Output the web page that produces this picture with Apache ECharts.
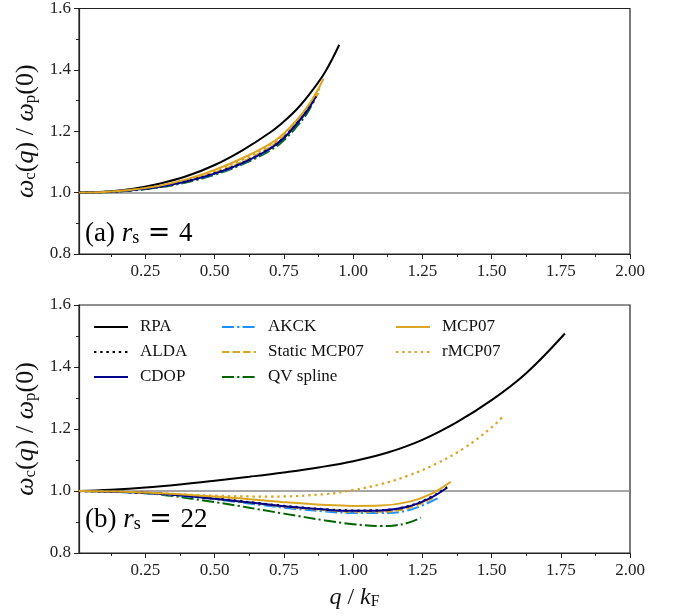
<!DOCTYPE html>
<html>
<head>
<meta charset="utf-8">
<script src="https://cdn.jsdelivr.net/npm/echarts@6/dist/echarts.min.js"></script>
<style>
  html, body { margin: 0; padding: 0; background: #fff; }
  #chart { width: 678px; height: 616px; }
</style>
</head>
<body>
<div id="chart"></div>
<script>
// Plasmon dispersion omega_c(q)/omega_p(0) for two densities.

// Axis ticks
const xTicks = [0.25, 0.5, 0.75, 1.0, 1.25, 1.5, 1.75, 2.0];
const xMinorTicks = [0.125, 0.375, 0.625, 0.875, 1.125, 1.375, 1.625, 1.875];

// Panel (a): r_s = 4, points are [q/kF, omega_c/omega_p]
const rpaA = [[0.01,1.000],[0.1,1.003],[0.2,1.012],[0.3,1.029],[0.4,1.054],[0.5,1.090],[0.6,1.138],[0.7,1.196],[0.75,1.232],[0.8,1.275],[0.85,1.330],[0.9,1.395],[0.95,1.482]];
const aldaA = [[0.01,1.000],[0.1,1.002],[0.2,1.008],[0.3,1.019],[0.4,1.037],[0.5,1.063],[0.6,1.097],[0.7,1.144],[0.75,1.179],[0.8,1.229],[0.835,1.269],[0.866,1.314]];
const cdopA = [[0.01,1.000],[0.1,1.002],[0.2,1.008],[0.3,1.019],[0.4,1.037],[0.5,1.062],[0.6,1.096],[0.7,1.143],[0.75,1.178],[0.8,1.228],[0.835,1.268],[0.865,1.312]];
const akckA = [[0.01,1.000],[0.1,1.002],[0.2,1.008],[0.3,1.019],[0.4,1.036],[0.5,1.061],[0.6,1.095],[0.7,1.142],[0.75,1.177],[0.8,1.227],[0.835,1.267],[0.868,1.316]];
const staticA = [[0.01,1.000],[0.1,1.002],[0.2,1.009],[0.3,1.021],[0.4,1.040],[0.5,1.066],[0.6,1.101],[0.7,1.149],[0.75,1.184],[0.8,1.234],[0.84,1.280],[0.875,1.325]];
const qvA = [[0.01,1.000],[0.1,1.001],[0.2,1.007],[0.3,1.017],[0.4,1.034],[0.5,1.058],[0.6,1.092],[0.7,1.137],[0.75,1.171],[0.8,1.219],[0.83,1.253],[0.86,1.300]];
const mcpA = [[0.01,1.000],[0.1,1.002],[0.2,1.009],[0.3,1.022],[0.4,1.044],[0.5,1.074],[0.6,1.112],[0.7,1.159],[0.75,1.193],[0.8,1.240],[0.85,1.300],[0.893,1.371]];
const rmcpA = [[0.01,1.000],[0.1,1.002],[0.2,1.009],[0.3,1.022],[0.4,1.042],[0.5,1.070],[0.6,1.107],[0.7,1.155],[0.75,1.189],[0.8,1.237],[0.85,1.297],[0.885,1.350]];

// Panel (b): r_s = 22
const rpaB = [[0.01,1.000],[0.125,1.004],[0.25,1.011],[0.375,1.021],[0.5,1.033],[0.625,1.046],[0.75,1.060],[0.875,1.076],[1.0,1.096],[1.125,1.124],[1.25,1.165],[1.375,1.222],[1.5,1.293],[1.625,1.380],[1.765,1.508]];
const aldaB = [[0.01,1.000],[0.25,0.994],[0.5,0.976],[0.75,0.952],[0.9,0.941],[1.0,0.937],[1.1,0.938],[1.2,0.951],[1.28,0.980],[1.34,1.012]];
const cdopB = [[0.01,1.000],[0.25,0.994],[0.5,0.975],[0.75,0.951],[0.9,0.940],[1.0,0.936],[1.1,0.937],[1.2,0.950],[1.28,0.978],[1.335,1.008]];
const akckB = [[0.01,1.000],[0.25,0.993],[0.5,0.973],[0.75,0.946],[0.9,0.934],[1.0,0.929],[1.1,0.929],[1.2,0.938],[1.305,0.976]];
const staticB = [[0.01,1.000],[0.25,0.994],[0.5,0.975],[0.75,0.950],[0.9,0.938],[1.0,0.933],[1.1,0.933],[1.2,0.945],[1.3,0.982]];
const qvB = [[0.01,1.000],[0.25,0.993],[0.5,0.964],[0.75,0.927],[0.9,0.905],[1.0,0.893],[1.1,0.887],[1.15,0.889],[1.2,0.898],[1.245,0.914]];
const mcpB = [[0.01,1.000],[0.25,0.995],[0.5,0.982],[0.75,0.964],[0.9,0.955],[1.0,0.952],[1.1,0.953],[1.2,0.965],[1.28,0.990],[1.353,1.030]];
const rmcpB = [[0.01,1.000],[0.25,0.994],[0.5,0.985],[0.7,0.982],[0.9,0.990],[1.0,1.003],[1.1,1.022],[1.2,1.050],[1.3,1.088],[1.4,1.138],[1.5,1.205],[1.546,1.245]];

const seriesNames = ['RPA', 'ALDA', 'CDOP', 'AKCK', 'Static MCP07', 'QV spline', 'MCP07', 'rMCP07'];
const panelA = [rpaA, aldaA, cdopA, akckA, staticA, qvA, mcpA, rmcpA];
const panelB = [rpaB, aldaB, cdopB, akckB, staticB, qvB, mcpB, rmcpB];

const GOLD = '#daa520';
const lineStyles = {
  'RPA':          { color: '#000000', type: 'solid', width: 2 },
  'ALDA':         { color: '#000000', type: [2.4, 3.8], width: 2.2 },
  'CDOP':         { color: '#00008b', type: 'solid', width: 2 },
  'AKCK':         { color: '#1e90ff', type: [12, 3.2, 2.2, 3.2], width: 2 },
  'Static MCP07': { color: GOLD, type: [7.4, 3.2], width: 2 },
  'QV spline':    { color: '#006400', type: [12, 3.2, 2.2, 3.2], width: 2 },
  'MCP07':        { color: GOLD, type: 'solid', width: 2 },
  'rMCP07':       { color: GOLD, type: [2.4, 3.8], width: 2.2 }
};
const drawOrder = ['RPA', 'rMCP07', 'QV spline', 'AKCK', 'Static MCP07', 'ALDA', 'CDOP', 'MCP07'];

const SERIF = "'Liberation Serif', 'DejaVu Serif', serif";
const AXIS_COLOR = '#222';

function buildSeries(panel, gridIdx) {
  const out = [];
  drawOrder.forEach((name, k) => {
    const idx = seriesNames.indexOf(name);
    const st = lineStyles[name];
    const s = {
      type: 'line',
      name: name,
      xAxisIndex: gridIdx * 2,
      yAxisIndex: gridIdx,
      data: panel[idx],
      smooth: 0.4,
      symbol: 'none',
      showSymbol: false,
      silent: true,
      animation: false,
      z: 3 + k,
      color: st.color,
      lineStyle: { color: st.color, width: st.width, type: st.type, cap: 'butt' }
    };
    if (k === 0) {
      s.markLine = {
        silent: true,
        symbol: 'none',
        label: { show: false },
        lineStyle: { color: '#8a8a8a', width: 1.6, type: 'solid' },
        data: [{ yAxis: 1.0 }],
        z: 1
      };
    }
    out.push(s);
  });
  return out;
}

function mainX(gridIdx) {
  return {
    type: 'value', gridIndex: gridIdx, min: 0.01, max: 2.0, position: 'bottom',
    axisLine: { show: true, onZero: false, lineStyle: { color: AXIS_COLOR, width: 1.2 } },
    axisTick: { show: true, length: 5, customValues: xTicks, lineStyle: { color: AXIS_COLOR, width: 1 } },
    axisLabel: { show: true, customValues: xTicks, margin: 9, color: '#222',
      fontFamily: SERIF, fontSize: 17, formatter: v => v.toFixed(2) },
    splitLine: { show: false }
  };
}
function minorX(gridIdx) {
  return {
    type: 'value', gridIndex: gridIdx, min: 0.01, max: 2.0, position: 'bottom',
    axisLine: { show: false, onZero: false },
    axisTick: { show: true, length: 3, customValues: xMinorTicks, lineStyle: { color: AXIS_COLOR, width: 1 } },
    axisLabel: { show: false },
    splitLine: { show: false }
  };
}

function makeRich(size, subSize) {
  return {
    n: { fontFamily: SERIF, fontSize: size, color: '#111' },
    i: { fontFamily: SERIF, fontSize: size, fontStyle: 'italic', color: '#111' },
    s: { fontFamily: SERIF, fontSize: subSize, color: '#111', verticalAlign: 'bottom', lineHeight: 6 },
    e: { fontFamily: "'DejaVu Serif', serif", fontSize: size, color: '#111' }
  };
}
const axisNameRich = makeRich(26, 17);
const panelRich = makeRich(27, 18);

function mainY(gridIdx) {
  return {
    type: 'value', gridIndex: gridIdx, min: 0.8, max: 1.6, interval: 0.2,
    axisLine: { show: true, lineStyle: { color: AXIS_COLOR, width: 1.2 } },
    axisTick: { show: true, length: 5, lineStyle: { color: AXIS_COLOR, width: 1 } },
    minorTick: { show: true, splitNumber: 2, length: 3, lineStyle: { color: AXIS_COLOR, width: 1 } },
    axisLabel: { margin: 8, color: '#222', fontFamily: SERIF, fontSize: 17, formatter: v => v.toFixed(1) },
    splitLine: { show: false },
    minorSplitLine: { show: false },
    name: '{i|ω}{s|c}{n|(}{i|q}{n|) / }{i|ω}{s|p}{n|(0)}',
    nameLocation: 'middle',
    nameRotate: 90,
    nameGap: 37,
    nameTextStyle: { rich: axisNameRich }
  };
}

const xAxes = [mainX(0), minorX(0), mainX(1), minorX(1)];
xAxes[2].name = '{i|q}{n| / }{i|k}{s|F}';
xAxes[2].nameLocation = 'middle';
xAxes[2].nameGap = 33;
xAxes[2].nameTextStyle = { rich: makeRich(24, 16) };

function legendColumn(names, left) {
  return {
    orient: 'vertical', left: left, top: 317, padding: 0,
    data: names,
    itemWidth: 34, itemHeight: 14, itemGap: 5,
    selectedMode: false,
    itemStyle: { color: 'transparent', borderColor: 'transparent', borderWidth: 0, opacity: 0 },
    textStyle: { fontFamily: SERIF, fontSize: 17, color: '#111', lineHeight: 20, padding: [0, 0, 0, 7] }
  };
}

const NB = '\u00a0';
const option = {
  backgroundColor: '#ffffff',
  animation: false,
  grid: [
    { left: 79, top: 5, width: 551, height: 249, show: true, borderColor: AXIS_COLOR, borderWidth: 1.2, backgroundColor: 'transparent' },
    { left: 79, top: 305, width: 551, height: 248, show: true, borderColor: AXIS_COLOR, borderWidth: 1.2, backgroundColor: 'transparent' }
  ],
  xAxis: xAxes,
  yAxis: [mainY(0), mainY(1)],
  legend: [
    legendColumn(['RPA', 'ALDA', 'CDOP'], 93),
    legendColumn(['AKCK', 'Static MCP07', 'QV spline'], 221),
    legendColumn(['MCP07', 'rMCP07'], 395)
  ],
  graphic: [
    { type: 'text', left: 85, top: 220, silent: true,
      style: { text: '{n|(a) }{i|r}{s|s}{e|' + NB + '=' + NB + '}{n|4}', rich: panelRich } },
    { type: 'text', left: 85, top: 506, silent: true,
      style: { text: '{n|(b) }{i|r}{s|s}{e|' + NB + '=' + NB + '}{n|22}', rich: panelRich } }
  ],
  series: buildSeries(panelA, 0).concat(buildSeries(panelB, 1))
};

const chart = echarts.init(document.getElementById('chart'), null, { renderer: 'canvas' });
chart.setOption(option);
</script>
</body>
</html>
